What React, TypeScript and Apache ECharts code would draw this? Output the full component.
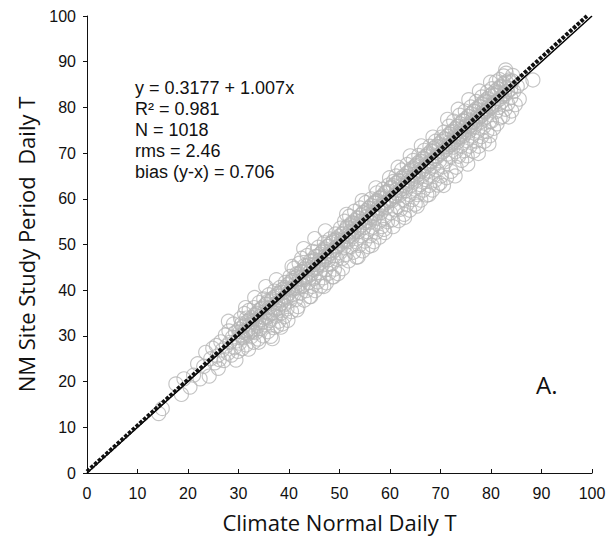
import React, { useEffect, useRef } from "react";
import * as echarts from "echarts";

// ---- data ----
const pts10s: number[][] = [
  [14.2, 13.0], [14.9, 14.1], [17.6, 19.5], [18.7, 17.2], [19.2, 20.6],
];
const pts20s: number[][] = [
  [20.4, 18.8], [21.1, 21.4], [21.9, 23.9], [22.4, 20.6], [23.1, 23.3], [23.5, 26.4], [24.2, 21.2], [24.5, 25.0],
  [24.9, 27.3], [25.3, 24.1], [25.6, 27.9], [25.8, 25.6], [26.2, 24.8], [26.5, 28.7], [26.8, 26.9], [27.1, 24.6],
  [27.4, 30.2], [27.6, 27.8], [27.9, 26.2], [28.1, 31.1], [28.3, 28.6], [28.6, 25.8], [28.8, 29.7], [29.0, 32.6],
  [29.2, 27.4], [29.4, 30.8], [29.7, 28.9], [29.9, 26.6], [26.0, 22.9], [28.0, 33.2], [29.5, 24.7],
];
const pts30s: number[][] = [
  [30.1, 31.5], [30.2, 28.4], [30.4, 33.8], [30.5, 30.1], [30.7, 27.2], [30.9, 32.0], [31.0, 29.6], [31.2, 34.9],
  [31.3, 31.2], [31.5, 28.0], [31.7, 33.1], [31.8, 30.4], [32.0, 27.1], [32.1, 35.6], [32.3, 32.4], [32.5, 29.8],
  [32.6, 34.0], [32.8, 31.3], [33.0, 28.6], [33.1, 36.2], [33.3, 33.5], [33.4, 30.7], [33.6, 35.0], [33.8, 32.1],
  [33.9, 29.3], [34.1, 37.3], [34.2, 34.2], [34.4, 31.6], [34.6, 36.0], [34.7, 33.0], [34.9, 30.0], [35.0, 38.1],
  [35.2, 35.3], [35.3, 32.4], [35.5, 37.0], [35.7, 34.1], [35.8, 30.9], [36.0, 39.0], [36.1, 36.2], [36.3, 33.4],
  [36.4, 29.9], [36.6, 38.0], [36.8, 35.1], [36.9, 31.8], [37.1, 39.8], [37.2, 37.0], [37.4, 34.3], [37.6, 32.1],
  [37.7, 38.7], [37.9, 36.0], [38.0, 33.2], [38.2, 40.6], [38.3, 37.8], [38.5, 35.0], [38.7, 32.6], [38.8, 39.5],
  [39.0, 36.8], [39.1, 34.2], [39.3, 41.7], [39.4, 38.6], [39.6, 35.9], [39.8, 33.4], [39.9, 40.3], [31.4, 36.2],
  [33.2, 38.4], [35.4, 40.8], [37.5, 42.3], [34.0, 28.6], [36.7, 29.4], [38.4, 31.9],
  [30.3, 30.9], [30.6, 32.6], [30.8, 29.8], [31.1, 32.3], [31.4, 30.6], [31.6, 33.9], [31.9, 31.4], [32.2, 33.5],
  [32.4, 31.0], [32.7, 33.1], [32.9, 30.9], [33.2, 34.6], [33.5, 32.8], [33.7, 34.8], [34.0, 32.9], [34.3, 35.8],
  [34.5, 33.6], [34.8, 36.3], [35.1, 34.0], [35.4, 36.9], [35.6, 35.1], [35.9, 37.6], [36.2, 34.8], [36.5, 37.7],
  [36.7, 36.1], [37.0, 38.4], [37.3, 35.7], [37.6, 39.0], [37.8, 37.2], [38.1, 39.4], [38.4, 37.0], [38.6, 40.1],
  [38.9, 38.2], [39.2, 40.6], [39.5, 38.3], [39.7, 41.2],
];
const pts40s: number[][] = [
  [40.1, 37.6], [40.2, 43.0], [40.4, 40.2], [40.5, 35.3], [40.7, 42.1], [40.9, 39.0], [41.0, 44.8], [41.2, 41.3],
  [41.3, 37.9], [41.5, 43.6], [41.7, 40.5], [41.8, 36.4], [42.0, 45.9], [42.1, 42.6], [42.3, 39.4], [42.5, 47.0],
  [42.6, 44.1], [42.8, 41.0], [43.0, 37.8], [43.1, 45.4], [43.3, 42.4], [43.4, 39.9], [43.6, 47.6], [43.8, 44.6],
  [43.9, 41.7], [44.1, 38.6], [44.2, 46.3], [44.4, 43.5], [44.6, 40.8], [44.7, 48.5], [44.9, 45.6], [45.0, 42.6],
  [45.2, 39.9], [45.3, 47.4], [45.5, 44.7], [45.7, 41.8], [45.8, 49.4], [46.0, 46.5], [46.1, 43.8], [46.3, 40.9],
  [46.5, 48.3], [46.6, 45.5], [46.8, 42.7], [47.0, 50.4], [47.1, 47.4], [47.3, 44.5], [47.4, 41.6], [47.6, 49.6],
  [47.8, 46.6], [47.9, 43.7], [48.1, 51.2], [48.2, 48.6], [48.4, 45.7], [48.6, 42.9], [48.7, 50.5], [48.9, 47.5],
  [49.0, 44.6], [49.2, 52.3], [49.3, 49.4], [49.5, 46.8], [49.7, 43.6], [49.8, 51.0], [40.6, 45.2], [42.9, 49.1],
  [45.1, 51.3], [47.2, 53.0], [41.6, 35.7], [44.3, 38.6], [46.9, 40.8], [48.8, 42.9],
  [40.0, 39.3], [40.3, 41.8], [40.6, 40.0], [40.8, 42.6], [41.1, 40.4], [41.4, 42.9], [41.6, 41.0], [41.9, 43.6],
  [42.2, 41.3], [42.4, 44.0], [42.7, 42.3], [43.0, 44.6], [43.2, 42.8], [43.5, 45.3], [43.8, 43.1], [44.0, 45.6],
  [44.3, 44.2], [44.6, 46.4], [44.8, 44.5], [45.1, 46.7], [45.4, 45.0], [45.6, 47.4], [45.9, 45.7], [46.2, 47.9],
  [46.4, 46.1], [46.7, 48.6], [47.0, 46.8], [47.2, 49.0], [47.5, 47.2], [47.8, 49.6], [48.0, 47.9], [48.3, 50.2],
  [48.6, 48.3], [48.8, 50.9], [49.1, 48.8], [49.4, 51.2], [49.6, 49.5], [49.9, 51.8],
];
const pts50s: number[][] = [
  [50.1, 48.2], [50.2, 53.6], [50.4, 50.9], [50.5, 46.9], [50.7, 52.5], [50.9, 49.4], [51.0, 55.1], [51.2, 51.8],
  [51.3, 47.8], [51.5, 53.9], [51.7, 50.6], [51.8, 46.4], [52.0, 56.2], [52.1, 52.8], [52.3, 49.5], [52.5, 54.8],
  [52.6, 51.7], [52.8, 48.3], [53.0, 57.3], [53.1, 54.0], [53.3, 50.6], [53.4, 47.2], [53.6, 55.9], [53.8, 52.8],
  [53.9, 49.8], [54.1, 58.0], [54.2, 55.1], [54.4, 51.9], [54.6, 48.6], [54.7, 57.0], [54.9, 53.8], [55.0, 50.7],
  [55.2, 59.2], [55.3, 56.0], [55.5, 52.8], [55.7, 49.5], [55.8, 57.9], [56.0, 54.9], [56.1, 51.9], [56.3, 60.0],
  [56.5, 56.9], [56.6, 53.8], [56.8, 50.6], [57.0, 59.1], [57.1, 55.9], [57.3, 52.7], [57.4, 61.3], [57.6, 58.0],
  [57.8, 54.9], [57.9, 51.6], [58.1, 60.2], [58.2, 57.0], [58.4, 53.9], [58.6, 62.1], [58.7, 59.1], [58.9, 55.8],
  [59.0, 52.6], [59.2, 61.4], [59.3, 58.2], [59.5, 55.0], [59.7, 63.0], [59.8, 60.0], [50.6, 44.7], [53.7, 47.3],
  [56.4, 49.8], [58.8, 53.3], [51.4, 56.6], [54.5, 59.6], [57.2, 62.4], [59.9, 64.6],
  [50.2, 50.1], [50.5, 52.3], [50.7, 50.6], [51.0, 53.0], [51.3, 51.1], [51.5, 53.6], [51.8, 51.7], [52.1, 54.2],
  [52.3, 52.0], [52.6, 54.6], [52.9, 52.8], [53.1, 55.3], [53.4, 53.2], [53.7, 55.7], [53.9, 53.8], [54.2, 56.4],
  [54.5, 54.3], [54.7, 56.9], [55.0, 54.8], [55.3, 57.4], [55.5, 55.2], [55.8, 58.0], [56.1, 55.9], [56.3, 58.5],
  [56.6, 56.4], [56.9, 59.1], [57.1, 56.8], [57.4, 59.6], [57.7, 57.5], [57.9, 60.2], [58.2, 57.9], [58.5, 60.6],
  [58.7, 58.6], [59.0, 61.3], [59.3, 59.1], [59.5, 61.6], [59.8, 59.6],
];
const pts60s: number[][] = [
  [60.1, 56.9], [60.2, 62.5], [60.4, 59.6], [60.5, 55.4], [60.7, 63.8], [60.9, 60.6], [61.0, 57.6], [61.2, 65.0],
  [61.3, 61.9], [61.5, 58.3], [61.7, 55.2], [61.8, 63.9], [62.0, 60.9], [62.1, 57.7], [62.3, 66.3], [62.5, 63.0],
  [62.6, 59.8], [62.8, 56.6], [63.0, 64.9], [63.1, 61.8], [63.3, 58.7], [63.4, 67.5], [63.6, 64.1], [63.8, 60.9],
  [63.9, 57.5], [64.1, 66.2], [64.2, 63.0], [64.4, 59.8], [64.6, 68.4], [64.7, 65.3], [64.9, 62.1], [65.0, 58.8],
  [65.2, 67.3], [65.3, 64.1], [65.5, 60.9], [65.7, 69.5], [65.8, 66.3], [66.0, 63.1], [66.1, 59.7], [66.3, 68.2],
  [66.5, 65.1], [66.6, 61.9], [66.8, 70.6], [67.0, 67.3], [67.1, 64.2], [67.3, 60.8], [67.4, 69.4], [67.6, 66.1],
  [67.8, 62.9], [67.9, 71.5], [68.1, 68.3], [68.2, 65.1], [68.4, 61.9], [68.6, 70.4], [68.7, 67.2], [68.9, 64.0],
  [69.0, 72.6], [69.2, 69.4], [69.3, 66.3], [69.5, 63.0], [69.7, 71.4], [69.8, 68.3], [60.6, 53.9], [62.9, 55.9],
  [65.4, 58.4], [67.7, 60.9], [69.9, 63.4], [61.6, 66.9], [64.0, 69.4], [66.2, 71.6], [68.5, 73.5],
  [60.1, 62.3], [60.3, 60.0], [60.6, 62.9], [60.9, 60.7], [61.1, 63.4], [61.4, 61.1], [61.7, 63.9], [61.9, 61.8],
  [62.2, 64.5], [62.5, 62.2], [62.7, 65.0], [63.0, 62.9], [63.3, 65.6], [63.5, 63.3], [63.8, 66.0], [64.1, 63.9],
  [64.3, 66.6], [64.6, 64.4], [64.9, 67.1], [65.1, 64.9], [65.4, 67.7], [65.7, 65.4], [65.9, 68.2], [66.2, 66.0],
  [66.5, 68.8], [66.7, 66.5], [67.0, 69.3], [67.3, 67.1], [67.5, 69.8], [67.8, 67.6], [68.1, 70.4], [68.3, 68.1],
  [68.6, 71.0], [68.9, 68.7], [69.1, 71.5], [69.4, 69.2], [69.7, 72.0], [69.9, 69.8],
];
const pts70s: number[][] = [
  [70.1, 65.0], [70.2, 73.5], [70.4, 70.2], [70.5, 67.0], [70.7, 74.6], [70.9, 71.4], [71.0, 68.1], [71.2, 64.6],
  [71.3, 73.0], [71.5, 69.8], [71.7, 75.9], [71.8, 72.4], [72.0, 69.2], [72.1, 66.0], [72.3, 74.5], [72.5, 71.3],
  [72.6, 77.0], [72.8, 73.6], [73.0, 70.3], [73.1, 66.9], [73.3, 75.8], [73.4, 72.5], [73.6, 69.3], [73.8, 78.3],
  [73.9, 74.9], [74.1, 71.6], [74.2, 68.4], [74.4, 77.1], [74.6, 73.8], [74.7, 70.5], [74.9, 79.2], [75.0, 75.9],
  [75.2, 72.7], [75.3, 69.4], [75.5, 78.0], [75.7, 74.8], [75.8, 71.5], [76.0, 80.1], [76.1, 76.9], [76.3, 73.7],
  [76.5, 70.4], [76.6, 79.1], [76.8, 75.8], [77.0, 72.6], [77.1, 81.3], [77.3, 78.0], [77.4, 74.8], [77.6, 71.5],
  [77.8, 80.1], [77.9, 76.8], [78.1, 73.6], [78.2, 82.3], [78.4, 79.1], [78.6, 75.8], [78.7, 72.6], [78.9, 81.2],
  [79.0, 77.9], [79.2, 74.7], [79.3, 83.4], [79.5, 80.2], [79.7, 76.9], [79.8, 73.8], [70.6, 62.9], [72.9, 65.0],
  [75.4, 67.6], [77.5, 69.9], [79.6, 72.0], [71.4, 77.4], [73.5, 79.6], [75.6, 81.7], [77.7, 83.6], [79.9, 85.5],
  [74.0, 74.2], [76.4, 76.7], [78.8, 79.0], [71.9, 71.9], [73.7, 73.5], [75.9, 76.0], [78.0, 78.1],
  [70.2, 72.6], [70.5, 70.3], [70.7, 73.1], [71.0, 70.8], [71.3, 73.7], [71.5, 71.4], [71.8, 74.2], [72.1, 71.9],
  [72.3, 74.8], [72.6, 72.5], [72.9, 75.3], [73.1, 73.0], [73.4, 75.9], [73.7, 73.6], [73.9, 76.4], [74.2, 74.1],
  [74.5, 77.0], [74.7, 74.7], [75.0, 77.5], [75.3, 75.2], [75.5, 78.1], [75.8, 75.8], [76.1, 78.6], [76.3, 76.3],
  [76.6, 79.2], [76.9, 76.9], [77.1, 79.7], [77.4, 77.4], [77.7, 80.3], [77.9, 78.0], [78.2, 80.8], [78.5, 78.5],
  [78.7, 81.4], [79.0, 79.1], [79.3, 81.9], [79.5, 79.6], [79.8, 82.5],
];
const pts80s: number[][] = [
  [80.1, 77.0], [80.2, 84.1], [80.4, 80.9], [80.5, 75.4], [80.7, 82.6], [80.9, 79.0], [81.0, 85.6], [81.2, 76.4],
  [81.3, 83.3], [81.5, 80.0], [81.7, 86.1], [81.8, 77.7], [82.0, 84.4], [82.1, 81.2], [82.3, 78.0], [82.5, 86.9],
  [82.6, 83.0], [82.8, 79.6], [83.0, 87.5], [83.1, 84.3], [83.3, 80.8], [83.5, 77.9], [83.7, 85.6], [83.9, 82.1],
  [84.1, 79.2], [84.3, 87.0], [84.5, 83.5], [84.8, 80.6], [85.2, 84.6], [85.6, 81.8], [86.0, 85.3], [88.3, 86.0],
  [82.9, 88.2],
  [80.1, 80.2], [80.3, 83.0], [80.6, 80.7], [80.9, 83.6], [81.1, 81.3], [81.4, 84.1], [81.7, 81.8], [81.9, 84.6],
  [82.2, 82.4], [82.5, 85.2], [82.7, 82.9], [83.0, 85.6], [83.3, 83.5], [83.6, 86.0], [83.9, 84.0], [84.2, 85.8],
];

const oneToOneLine: number[][] = [[0, 0], [100, 100]];
const fitLine: number[][] = [[0, 0.32], [99, 100.01]];

const statsLines: string[] = [
  "y = 0.3177 + 1.007x",
  "R\u00B2 = 0.981",
  "N = 1018",
  "rms = 2.46",
  "bias (y-x) = 0.706",
];
const panelLabel = "A.";
const xTitle = "Climate Normal Daily T";
const yTitle = "NM Site Study Period  Daily T";

const allPoints = [...pts10s, ...pts20s, ...pts30s, ...pts40s, ...pts50s, ...pts60s, ...pts70s, ...pts80s];

export default function App() {
  const ref = useRef<HTMLDivElement>(null);
  useEffect(() => {
    if (!ref.current) return;
    const chart = echarts.init(ref.current, undefined, { renderer: "svg" });
    const labelFont = "'Liberation Sans', Arial, sans-serif";
    const titleFont = "'Open Sans', sans-serif";
    chart.setOption({
      animation: false,
      backgroundColor: "#ffffff",
      grid: { left: 87, top: 16, right: 19, bottom: 70 },
      xAxis: {
        type: "value",
        min: 0,
        max: 100,
        interval: 10,
        name: xTitle,
        nameLocation: "middle",
        nameGap: 38,
        nameTextStyle: { fontFamily: titleFont, fontSize: 22, color: "#111" },
        axisLine: { lineStyle: { color: "#111", width: 1 } },
        axisTick: { inside: true, length: 4, lineStyle: { color: "#111" } },
        axisLabel: { fontFamily: labelFont, fontSize: 16, color: "#111", margin: 12 },
        splitLine: { show: false },
      },
      yAxis: {
        type: "value",
        min: 0,
        max: 100,
        interval: 10,
        name: yTitle,
        nameLocation: "middle",
        nameGap: 50,
        nameTextStyle: { fontFamily: titleFont, fontSize: 22, color: "#111" },
        axisLine: { lineStyle: { color: "#111", width: 1 } },
        axisTick: { inside: false, length: 4, lineStyle: { color: "#111" } },
        axisLabel: { fontFamily: labelFont, fontSize: 16, color: "#111", margin: 11 },
        splitLine: { show: false },
      },
      series: [
        {
          type: "scatter",
          data: allPoints,
          symbol: "circle",
          symbolSize: 14,
          itemStyle: { color: "rgba(0,0,0,0)", borderColor: "#b5b5b5", borderWidth: 1.15 },
          z: 2,
        },
        {
          type: "line",
          data: oneToOneLine,
          symbol: "none",
          lineStyle: { color: "#000", width: 1.5 },
          z: 3,
        },
        {
          type: "line",
          data: fitLine,
          symbol: "none",
          lineStyle: { color: "#111", width: 4, type: [3.5, 1.6] },
          z: 4,
        },
      ],
      graphic: [
        ...statsLines.map((t, i) => ({
          type: "text",
          left: 135,
          top: 78.5 + i * 21.2,
          style: { text: t, font: `18px ${labelFont}`, fill: "#111" },
        })),
        {
          type: "text",
          left: 536,
          top: 372,
          style: { text: panelLabel, font: `24px ${titleFont}`, fill: "#111" },
        },
      ],
    });
    return () => chart.dispose();
  }, []);
  return <div ref={ref} style={{ position: "fixed", left: 0, top: 0, width: 611, height: 543 }} />;
}
